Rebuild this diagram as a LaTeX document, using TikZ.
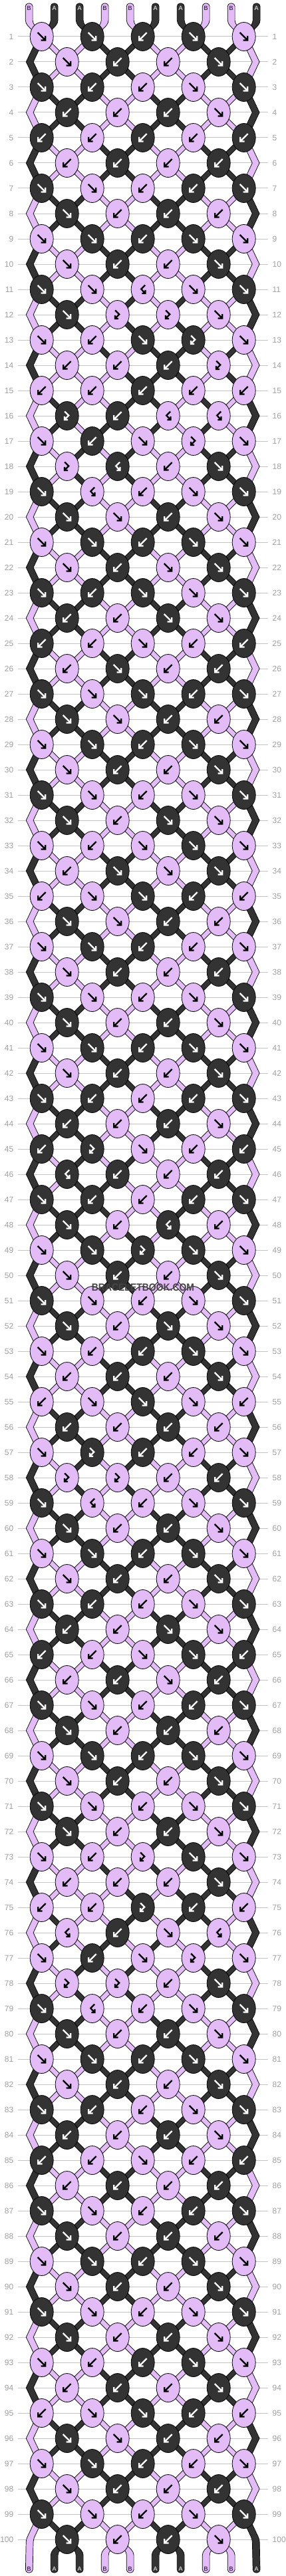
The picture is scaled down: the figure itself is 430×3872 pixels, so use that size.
\documentclass[tikz,border=0pt]{standalone}
\usepackage{fontspec}
\setmainfont{Liberation Sans}
\usetikzlibrary{shapes.geometric}
\definecolor{pk}{HTML}{E3BBF6}
\definecolor{dk}{HTML}{333333}
\definecolor{rowline}{HTML}{C4C4C4}
\definecolor{numcol}{HTML}{A0A0A0}
\definecolor{wmark}{HTML}{454545}
\pgfdeclarelayer{bg}
\pgfsetlayers{bg,main}
\tikzset{
  knotbox/.style={ellipse, draw=black, line width=0.8pt, minimum width=35pt, minimum height=43pt, inner sep=0pt, outer sep=0pt},
  strandpoly/.style={draw=black, line width=0.7pt, line join=miter},
  glyphline/.style={line width=2.3pt, line join=miter, line cap=butt},
  rownum/.style={font=\fontsize{12}{12}\selectfont, text=numcol, inner sep=0pt},
  endlabel/.style={font=\fontsize{9}{9}\selectfont, inner sep=0pt},
  gridline/.style={draw=rowline, line width=1pt},
}
\newcount\rr \newcount\pp \newcount\qq \newcount\src
\def\sw{5.4pt}
\def\dkname{dk}
\def\rowdef#1#2{\expandafter\def\csname row#1\endcsname{#2}}
\rowdef{1}{ffbff}\rowdef{2}{fbbf}\rowdef{3}{fbbff}\rowdef{4}{bbbf}
\rowdef{5}{bbbbb}\rowdef{6}{bbbb}\rowdef{7}{ffbbf}\rowdef{8}{fbbb}
\rowdef{9}{ffbff}\rowdef{10}{fbbf}\rowdef{11}{ffBff}\rowdef{12}{fFFf}
\rowdef{13}{fbfFf}\rowdef{14}{bbbF}\rowdef{15}{bbbbb}\rowdef{16}{FbBB}
\rowdef{17}{fbfFf}\rowdef{18}{FBbf}\rowdef{19}{fBbff}\rowdef{20}{ffbf}
\rowdef{21}{ffbff}\rowdef{22}{fbff}\rowdef{23}{fbfff}\rowdef{24}{bbff}
\rowdef{25}{bbfbb}\rowdef{26}{bfbb}\rowdef{27}{fffbf}\rowdef{28}{ffbb}
\rowdef{29}{ffbff}\rowdef{30}{fbbf}\rowdef{31}{ffbff}\rowdef{32}{fbff}
\rowdef{33}{fbfff}\rowdef{34}{bfff}\rowdef{35}{bffbb}\rowdef{36}{ffbb}
\rowdef{37}{ffbbf}\rowdef{38}{fbbb}\rowdef{39}{ffbff}\rowdef{40}{fbbf}
\rowdef{41}{ffbff}\rowdef{42}{fbbf}\rowdef{43}{fbbbf}\rowdef{44}{bbbf}
\rowdef{45}{bFfbb}\rowdef{46}{Bbbb}\rowdef{47}{fbbbf}\rowdef{48}{fbBb}
\rowdef{49}{ffFff}\rowdef{50}{fbbf}\rowdef{51}{ffbff}\rowdef{52}{fbff}
\rowdef{53}{fbbff}\rowdef{54}{bbbf}\rowdef{55}{bfffb}\rowdef{56}{bbbb}
\rowdef{57}{fFbbf}\rowdef{58}{FFbb}\rowdef{59}{fBbff}\rowdef{60}{fbbf}
\rowdef{61}{ffbff}\rowdef{62}{fbbf}\rowdef{63}{fbbff}\rowdef{64}{bbff}
\rowdef{65}{bbffb}\rowdef{66}{bbfb}\rowdef{67}{ffbbf}\rowdef{68}{fbbb}
\rowdef{69}{ffbff}\rowdef{70}{fbbf}\rowdef{71}{ffbff}\rowdef{72}{fbbf}
\rowdef{73}{fbFff}\rowdef{74}{bbbf}\rowdef{75}{bbFbb}\rowdef{76}{BbfB}
\rowdef{77}{fbfFf}\rowdef{78}{FFbf}\rowdef{79}{fBbff}\rowdef{80}{fbbf}
\rowdef{81}{ffbff}\rowdef{82}{fbbf}\rowdef{83}{fbbff}\rowdef{84}{bbbf}
\rowdef{85}{bbfbb}\rowdef{86}{bbbb}\rowdef{87}{ffbbf}\rowdef{88}{fbbb}
\rowdef{89}{ffbff}\rowdef{90}{fbbf}\rowdef{91}{ffbff}\rowdef{92}{fbbf}
\rowdef{93}{fbbff}\rowdef{94}{bbbf}\rowdef{95}{bffbb}\rowdef{96}{ffbb}
\rowdef{97}{ffbbf}\rowdef{98}{fbbb}\rowdef{99}{ffbff}\rowdef{100}{fbbf}
\def\setst#1#2{\expandafter\xdef\csname st#1\endcsname{#2}}
\def\getst#1{\csname st#1\endcsname}
\setst{0}{pk}\setst{1}{dk}\setst{2}{dk}\setst{3}{pk}\setst{4}{pk}
\setst{5}{dk}\setst{6}{dk}\setst{7}{pk}\setst{8}{pk}\setst{9}{dk}
\def\seg#1#2#3{\filldraw[strandpoly, fill=#1] ([xshift=-\sw]#2) -- ([xshift=-\sw]#3) -- ([xshift=\sw]#3) -- ([xshift=\sw]#2) -- cycle;}
\def\segthree#1#2#3#4{\filldraw[strandpoly, fill=#1] ([xshift=-\sw]#2) -- ([xshift=-\sw]#3) -- ([xshift=-\sw]#4) -- ([xshift=\sw]#4) -- ([xshift=\sw]#3) -- ([xshift=\sw]#2) -- cycle;}
\def\segend#1#2#3#4{\filldraw[strandpoly, fill=#1, rounded corners=4.6pt] ([xshift=-\sw]#2) -- ([xshift=-\sw]#3) -- ([xshift=-\sw]#4) -- ([xshift=\sw]#4) -- ([xshift=\sw]#3) -- ([xshift=\sw]#2) -- cycle;}
\def\swapst{\edef\tmpa{\getst{\the\pp}}\edef\tmpb{\getst{\the\qq}}\setst{\the\pp}{\tmpb}\setst{\the\qq}{\tmpa}}
% strand arriving at position #1 of row \rr, into knot \kname, colour \Sc
\def\incoming#1{%
  \src=#1\relax
  \ifnum\rr=1
    \segend{\Sc}{\kname.center}{tb-#1}{t-#1}%
  \else
    \ifodd\rr
      \ifnum\src=0
        \edef\srcname{k-\the\numexpr\rr-2\relax-0}\edef\ename{eL-\the\numexpr\rr-1\relax}%
        \segthree{\Sc}{\srcname.center}{\ename}{\kname.center}%
      \else\ifnum\src=9
        \edef\srcname{k-\the\numexpr\rr-2\relax-8}\edef\ename{eR-\the\numexpr\rr-1\relax}%
        \segthree{\Sc}{\srcname.center}{\ename}{\kname.center}%
      \else
        \ifodd\src\else\advance\src by -1 \fi
        \edef\srcname{k-\the\numexpr\rr-1\relax-\the\src}%
        \seg{\Sc}{\srcname.center}{\kname.center}%
      \fi\fi
    \else
      \ifodd\src\advance\src by -1 \fi
      \edef\srcname{k-\the\numexpr\rr-1\relax-\the\src}%
      \seg{\Sc}{\srcname.center}{\kname.center}%
    \fi
  \fi
}
\def\drawincoming#1{%
  \edef\Sc{\csname ic-\the\rr-#1\endcsname}%
  \src=#1\relax
  \ifodd\rr \ifodd\src\advance\src by -1 \fi\else\ifodd\src\else\advance\src by -1 \fi\fi
  \edef\kname{k-\the\rr-\the\src}%
  \incoming{#1}%
}
\def\drawglyph#1{%
  \ifx\Kc\dkname\def\gcol{white}\else\def\gcol{black}\fi
  \if#1f\draw[glyphline, draw=\gcol, shift={(\kname.center)}] (-6,-6) -- (4.6,4.6) (-1,5.5) -- (5.5,5.5) -- (5.5,-1);\fi
  \if#1b\draw[glyphline, draw=\gcol, shift={(\kname.center)}] (6,-6) -- (-4.6,4.6) (1,5.5) -- (-5.5,5.5) -- (-5.5,-1);\fi
  \if#1F\draw[glyphline, draw=\gcol, shift={(\kname.center)}] (-3.5,-6.5) -- (2.5,-0.5) -- (-2.8,5) (-3.8,0.8) -- (-3.8,6) -- (1.4,6);\fi
  \if#1B\draw[glyphline, draw=\gcol, shift={(\kname.center)}] (3.5,-6.5) -- (-2.5,-0.5) -- (2.8,5) (3.8,0.8) -- (3.8,6) -- (-1.4,6);\fi
}
\def\doknot#1{%
  \qq=\pp \advance\qq by 1
  \edef\Lc{\getst{\the\pp}}%
  \edef\Rc{\getst{\the\qq}}%
  \expandafter\xdef\csname ic-\the\rr-\the\pp\endcsname{\Lc}%
  \expandafter\xdef\csname ic-\the\rr-\the\qq\endcsname{\Rc}%
  \let\Kc\Lc
  \if#1b\let\Kc\Rc\fi
  \if#1B\let\Kc\Rc\fi
  \edef\kname{k-\the\rr-\the\pp}%
  \node[knotbox, fill=\Kc] (\kname) at ({62.7+38*\the\pp},{55+38*(\the\rr-1)}) {};
  \drawglyph{#1}%
  \if#1f\swapst\fi
  \if#1b\swapst\fi
}
\def\dorow#1{\ifodd\rr\pp=0 \else\pp=1 \fi\dorowloop#1\relax}
\def\dorowloop#1{\ifx#1\relax\else\doknot{#1}\advance\pp by 2 \expandafter\dorowloop\fi}
\def\bottomstrand#1{%
  \src=#1\relax
  \edef\Sc{\getst{#1}}%
  \ifnum\src=0 \segend{\Sc}{k-99-0.center}{eL-100}{b-0}%
  \else\ifnum\src=9 \segend{\Sc}{k-99-8.center}{eR-100}{b-9}%
  \else \ifodd\src\else\advance\src by -1 \fi
    \edef\srcname{k-100-\the\src}\segend{\Sc}{\srcname.center}{bb-#1}{b-#1}%
  \fi\fi}
\begin{document}
\begin{tikzpicture}[x=1pt,y=-1pt]
\useasboundingbox (0,0) rectangle (430,3872);
\foreach \p in {0,...,9}{
  \coordinate (t-\p) at ({43.7+38*\p},5);
  \coordinate (tb-\p) at ({43.7+38*\p},35);
  \coordinate (bb-\p) at ({43.7+38*\p},3836);
  \coordinate (b-\p) at ({43.7+38*\p},3867);
}
% pass 1: knots (simulating the strands)
\rr=1
\loop
  \pgfmathsetmacro\yy{55+38*(\the\rr-1)}
  \node[rownum, anchor=east] (nl-\the\rr) at (20.5,\yy) {\the\rr};
  \node[rownum, anchor=west] (nr-\the\rr) at (409.5,\yy) {\the\rr};
  \ifodd\rr\else
    \coordinate (eL-\the\rr) at (44.7,\yy);
    \coordinate (eR-\the\rr) at (384.7,\yy);
  \fi
  \edef\currow{\csname row\the\rr\endcsname}%
  \expandafter\dorow\expandafter{\currow}%
  \advance\rr by 1
\ifnum\rr<101 \repeat
% pass 2: grid lines and strands under the knots
\begin{pgfonlayer}{bg}
\fill[white] (0,0) rectangle (430,3872);
\rr=1
\loop
  \pgfmathsetmacro\yy{55+38*(\the\rr-1)}
  \draw[gridline] (26.7,\yy) -- (403.3,\yy);
  \foreach \p in {0,...,9}{%
    \ifodd\rr \drawincoming{\p}\else
      \ifnum\p>0 \ifnum\p<9 \drawincoming{\p}\fi\fi
    \fi
  }%
  \advance\rr by 1
\ifnum\rr<101 \repeat
\foreach \p in {0,...,9}{\bottomstrand{\p}}
\end{pgfonlayer}
\foreach \p/\l/\c in {0/B/black,1/A/white,2/A/white,3/B/black,4/B/black,5/A/white,6/A/white,7/B/black,8/B/black,9/A/white}{
  \node[endlabel, text=\c] (lt-\p) at ({43.7+38*\p},12.3) {\l};
  \node[endlabel, text=\c] (lb-\p) at ({43.7+38*\p},3861) {\l};
}
\node[font=\fontsize{15.5}{16}\selectfont\bfseries, text=wmark, inner sep=0pt] (wm) at (215,1935.5) {\scalebox{0.9}[1]{BRACELETBOOK.COM}};
\end{tikzpicture}
\end{document}
